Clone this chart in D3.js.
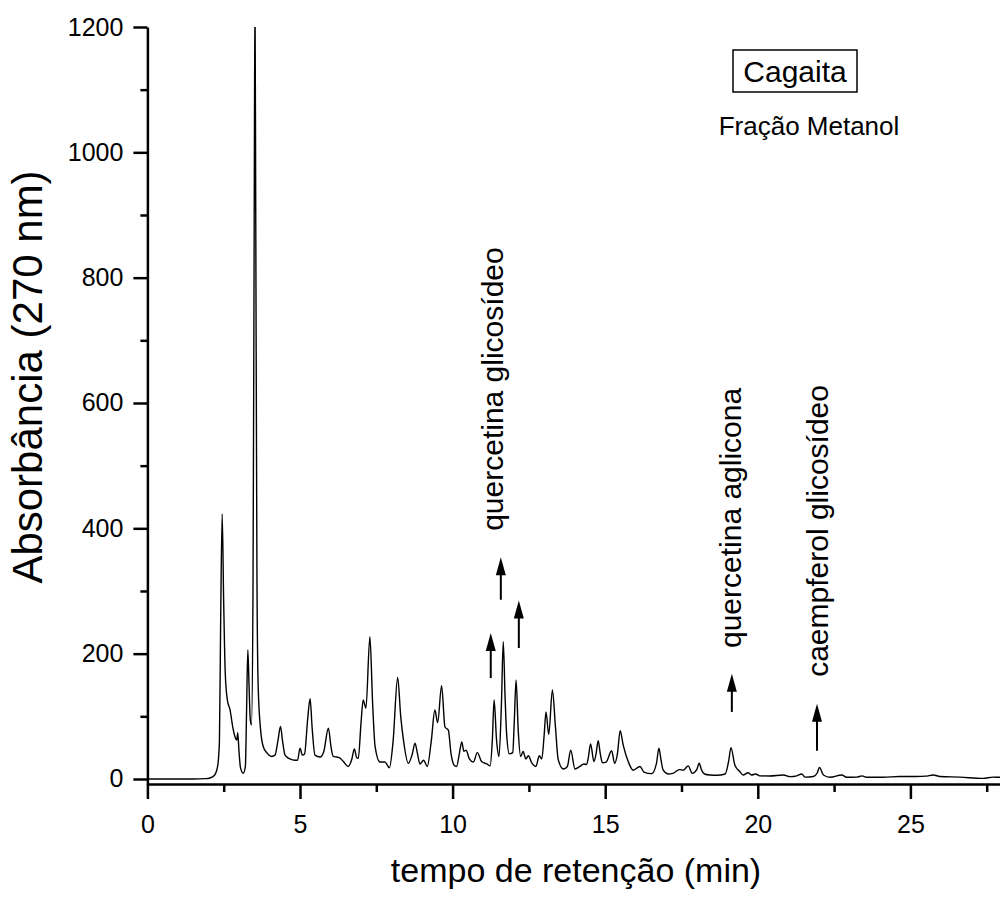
<!DOCTYPE html>
<html>
<head>
<meta charset="utf-8">
<script src="https://cdn.jsdelivr.net/npm/d3@7"></script>
<style>
  body { margin: 0; background: #fff; }
  svg { font-family: "Liberation Sans", Arial, sans-serif; }
  .axis path, .axis line { stroke: #000; stroke-width: 2.5; }
  .axis text { font-size: 25px; fill: #000; }
  .trace { fill: none; stroke: #000; stroke-width: 1.4; }
</style>
</head>
<body>
<script>
// retention time (min) and absorbance (270 nm)
const times = [
  0, 1.5, 1.9, 2.05, 2.2, 2.3, 2.36, 2.4, 2.45, 2.5, 2.55, 2.62, 2.71, 2.8, 2.88, 2.93, 2.96, 3.0, 3.05, 3.14,
  3.21, 3.25, 3.29, 3.33, 3.37, 3.41, 3.46, 3.5, 3.525, 3.55, 3.59, 3.63, 3.71, 3.8, 3.91, 4.07, 4.18, 4.28, 4.36, 4.43,
  4.51, 4.67, 4.84, 4.92, 5.0, 5.08, 5.15, 5.25, 5.33, 5.4, 5.49, 5.66, 5.78, 5.93, 6.02, 6.09, 6.2, 6.29, 6.42, 6.58,
  6.7, 6.78, 6.86, 6.91, 7.0, 7.07, 7.16, 7.29, 7.38, 7.46, 7.62, 7.78, 7.93, 8.05, 8.2, 8.3, 8.39, 8.55, 8.68, 8.77,
  8.85, 8.93, 9.05, 9.17, 9.3, 9.42, 9.51, 9.64, 9.75, 9.86, 9.95, 10.05, 10.13, 10.22, 10.3, 10.37, 10.44, 10.55, 10.68, 10.81,
  10.95, 11.12, 11.23, 11.3, 11.36, 11.44, 11.52, 11.6, 11.66, 11.72, 11.77, 11.86, 11.97, 12.02, 12.08, 12.15, 12.23, 12.31, 12.4, 12.48,
  12.59, 12.73, 12.84, 12.92, 13.0, 13.06, 13.15, 13.27, 13.37, 13.46, 13.63, 13.76, 13.87, 14.01, 14.17, 14.3, 14.39, 14.45, 14.52, 14.63,
  14.7, 14.77, 14.84, 14.91, 15.03, 15.21, 15.31, 15.4, 15.49, 15.59, 15.76, 15.92, 16.14, 16.27, 16.52, 16.68, 16.76, 16.83, 16.9, 17.06,
  17.22, 17.43, 17.56, 17.72, 17.85, 18.0, 18.08, 18.15, 18.27, 18.44, 18.66, 18.93, 19.05, 19.12, 19.25, 19.41, 19.52, 19.68, 19.79, 19.93,
  20.06, 20.39, 20.84, 21.06, 21.28, 21.44, 21.55, 21.82, 21.95, 22.02, 22.15, 22.37, 22.75, 22.91, 23.24, 23.42, 23.56, 24.1, 24.65, 25.2,
  25.5, 25.75, 25.97, 26.62, 27.38, 27.71, 27.93, 28.5
];
const absorbance = [
  0, 0, 0.5, 1.5, 6, 20, 60, 250, 423, 280, 170, 126, 110, 82, 66, 62, 74, 45, 18, 9,
  20, 110, 206, 150, 95, 86, 300, 900, 1260, 900, 320, 147, 78, 51, 42, 36, 38, 62, 84, 60,
  38, 32, 30, 30, 49, 38, 40, 95, 128, 80, 38, 35, 44, 81, 50, 36, 35, 34, 28, 20,
  32, 48, 34, 33, 90, 126, 113, 227, 120, 52, 27, 27, 18, 60, 162, 100, 62, 25, 40, 57,
  40, 24, 30, 20, 60, 110, 90, 149, 83, 78, 40, 22, 20, 40, 59, 44, 46, 32, 27, 42,
  28, 24, 21, 60, 126, 62, 36, 120, 219, 130, 72, 40, 42, 90, 158, 78, 36, 44, 32, 37,
  26, 20, 37, 32, 70, 107, 71, 142, 83, 31, 16, 20, 46, 16, 20, 24, 23, 35, 56, 28,
  40, 61, 40, 26, 27, 45, 25, 40, 77, 54, 27, 14, 20, 11, 8.5, 25, 49, 30, 14, 8,
  9, 15, 14, 21, 9, 15, 25, 15, 7.5, 6.4, 6, 8, 30, 50, 22, 12, 6.4, 10, 6.4, 8,
  5, 4.8, 6.4, 3.7, 5, 8, 3, 4, 10, 18.6, 6.4, 2.7, 6.4, 2.7, 3, 5, 2.7, 2.7, 4, 4,
  4.5, 6.4, 4, 3, 1, 3, 2.7, 2.5
];

const xTicks = [0, 5, 10, 15, 20, 25];
const xMinorTicks = [2.5, 7.5, 12.5, 17.5, 22.5, 27.5];
const yTicks = [0, 200, 400, 600, 800, 1000, 1200];
const yMinorTicks = [100, 300, 500, 700, 900, 1100];

// arrows: time, tail and tip absorbance
const arrowTimes = [11.25, 11.58, 12.17, 19.15, 21.94];
const arrowTails = [161, 286, 209, 107, 45];
const arrowTips = [233, 354, 285, 168, 120];

const peakLabels = ["quercetina glicosídeo", "quercetina aglicona", "caempferol glicosídeo"];
const peakLabelTimes = [11.64, 19.45, 22.3];
const peakLabelStarts = [396, 209, 163];

const WIDTH = 1000;
const HEIGHT = 903;

var xScale = d3.scaleLinear().domain([0, 30]).range([147.4, 147.4 + 30 * 30.52]);
var yScale = d3.scaleLinear().domain([-8, 1200]).range([784, 27]);

var onload = function() {
    var svg = d3.select('body').append('svg')
        .attr('width', WIDTH)
        .attr('height', HEIGHT);

    svg.append('defs').append('clipPath').attr('id', 'plotclip')
      .append('rect')
        .attr('x', xScale(0))
        .attr('y', yScale(1200))
        .attr('width', xScale(30) - xScale(0))
        .attr('height', yScale(-8) - yScale(1200));

    // minor ticks first, then major ticks with labels
    svg.append('g').attr('class', 'axis')
        .attr('transform', 'translate(0,' + yScale(-8) + ')')
        .call(d3.axisBottom(xScale).tickValues(xMinorTicks).tickSize(8).tickFormat(''))
        .select('.domain').remove();
    svg.append('g').attr('class', 'axis')
        .attr('transform', 'translate(' + xScale(0) + ',0)')
        .call(d3.axisLeft(yScale).tickValues(yMinorTicks).tickSize(7).tickFormat(''))
        .select('.domain').remove();

    svg.append('g').attr('class', 'axis')
        .attr('transform', 'translate(0,' + yScale(-8) + ')')
        .call(d3.axisBottom(xScale).tickValues(xTicks).tickSize(15).tickSizeOuter(0)
            .tickPadding(16).tickFormat(d3.format('d')));
    svg.append('g').attr('class', 'axis')
        .attr('transform', 'translate(' + xScale(0) + ',0)')
        .call(d3.axisLeft(yScale).tickValues(yTicks).tickSize(14).tickSizeOuter(0)
            .tickPadding(10).tickFormat(d3.format('d')));

    var pts = times.map(function(t, i) { return {x: t, y: absorbance[i]}; });
    var line = d3.line()
        .x(function(d) { return xScale(d.x); })
        .y(function(d) { return yScale(d.y); })
        .curve(d3.curveMonotoneX);

    svg.append('path')
        .attr('class', 'trace')
        .attr('clip-path', 'url(#plotclip)')
        .attr('d', line(pts));

    // arrows
    arrowTimes.forEach(function(t, i) {
        var x = xScale(t);
        var tipY = yScale(arrowTips[i]);
        svg.append('line')
            .attr('x1', x).attr('x2', x)
            .attr('y1', yScale(arrowTails[i]))
            .attr('y2', tipY + 14)
            .attr('stroke', '#000').attr('stroke-width', 2);
        svg.append('path')
            .attr('d', 'M' + (x - 5) + ',' + (tipY + 18) + 'L' + x + ',' + tipY + 'L' + (x + 5) + ',' + (tipY + 18) + 'Z')
            .attr('fill', '#000');
    });

    peakLabels.forEach(function(s, i) {
        svg.append('text')
            .attr('transform', 'translate(' + xScale(peakLabelTimes[i]) + ',' + yScale(peakLabelStarts[i]) + ') rotate(-90)')
            .attr('font-size', 30)
            .text(s);
    });

    // Cagaita box
    svg.append('rect')
        .attr('x', 733).attr('y', 50).attr('width', 124).attr('height', 42)
        .attr('fill', 'none').attr('stroke', '#000').attr('stroke-width', 1.5);
    svg.append('text')
        .attr('x', 795).attr('y', 82)
        .attr('text-anchor', 'middle').attr('font-size', 30)
        .text('Cagaita');
    svg.append('text')
        .attr('x', 809).attr('y', 135)
        .attr('text-anchor', 'middle').attr('font-size', 26)
        .text('Fração Metanol');

    svg.append('text')
        .attr('x', 576).attr('y', 882)
        .attr('text-anchor', 'middle').attr('font-size', 34)
        .text('tempo de retenção (min)');
    svg.append('text')
        .attr('transform', 'translate(42,' + 377 + ') rotate(-90)')
        .attr('text-anchor', 'middle').attr('font-size', 42)
        .text('Absorbância (270 nm)');
};

window.onload = onload;
</script>
</body>
</html>
